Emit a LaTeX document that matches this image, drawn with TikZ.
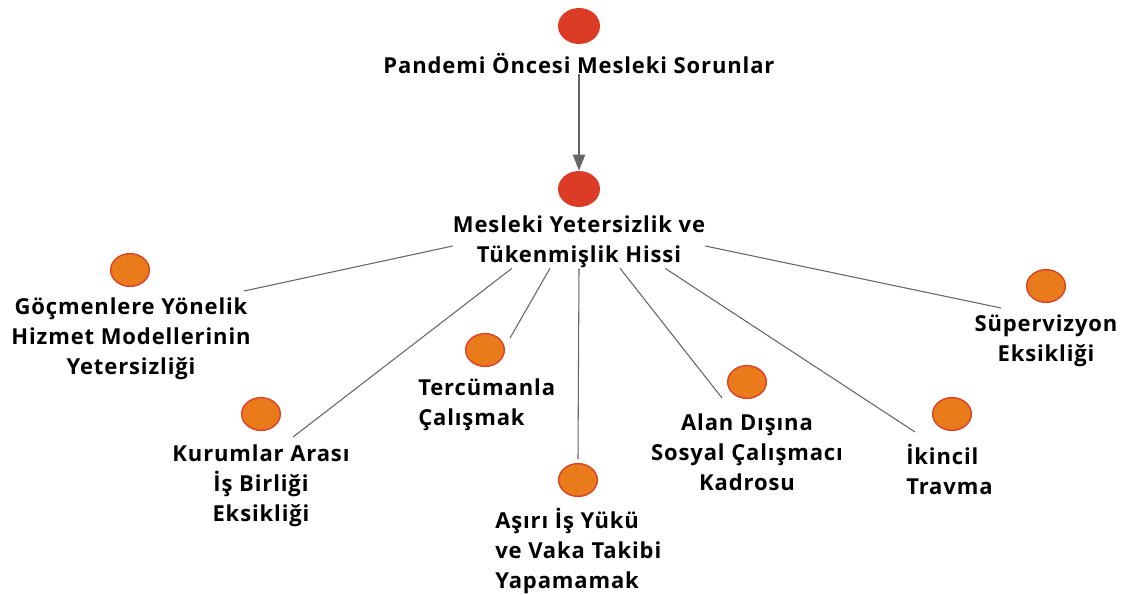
\documentclass[tikz,border=0pt]{standalone}
\usepackage{fontspec}
\setmainfont{Open Sans}
\newfontfamily\lblfont{Open Sans}[LetterSpace=4.0]
\usetikzlibrary{arrows.meta,shapes.geometric,calc}

\definecolor{topred}{HTML}{DC3B26}
\definecolor{dotorange}{HTML}{E97B1B}
\definecolor{dotrim}{HTML}{D9452B}
\definecolor{linkgray}{HTML}{666666}

\tikzset{
  topdot/.style={ellipse, fill=topred, minimum width=31.5pt, minimum height=27pt, inner sep=0pt},
  subdot/.style={ellipse, draw=dotrim, line width=1.1pt, fill=dotorange, minimum width=29pt, minimum height=24.5pt, inner sep=0pt},
  lbl/.style={font=\lblfont\fontsize{16.5}{22.5}\selectfont\bfseries, inner sep=0pt, align=center},
  link/.style={draw=linkgray, line width=0.8pt},
}

\begin{document}
\begin{tikzpicture}[x=0.75pt,y=-0.75pt]
        \useasboundingbox (0,0) rectangle (1124,595);

        % top level
        \node[topdot] (d0) at (579,26) {};
        \node[lbl] (t0) at (579,64) {Pandemi Öncesi Mesleki Sorunlar};
        \node[topdot] (d1) at (579,189) {};
        \node[lbl] (hub) at (579,242) {Mesleki Yetersizlik ve\\Tükenmişlik Hissi};

        \draw[linkgray, line width=1.5pt, -{Triangle[width=9pt,length=12pt]}] (t0) -- (d1);

        % sub themes
        \node[subdot] (d2) at (130,270) {};
        \node[lbl] (t2) at (131,339) {Göçmenlere Yönelik\\Hizmet Modellerinin\\Yetersizliği};
        \node[subdot] (d3) at (261,414) {};
        \node[lbl] (t3) at (261,486) {Kurumlar Arası\\İş Birliği\\Eksikliği};
        \node[subdot] (d4) at (485,350) {};
        \node[lbl, align=left, anchor=west] (t4) at (418,405) {Tercümanla\\Çalışmak};
        \node[subdot] (d5) at (578,480) {};
        \node[lbl, align=left, anchor=west] (t5) at (495,551) {Aşırı İş Yükü\\ve Vaka Takibi\\Yapamamak};
        \node[subdot] (d6) at (747,382) {};
        \node[lbl] (t6) at (747,452) {Alan Dışına\\Sosyal Çalışmacı\\Kadrosu};
        \node[subdot] (d7) at (952,414) {};
        \node[lbl, align=left, anchor=west] (t7) at (906,469) {İkincil\\Travma};
        \node[subdot] (d8) at (1046,286) {};
        \node[lbl] (t8) at (1046,341) {Süpervizyon\\Eksikliği};

        % free ends of the links
        \coordinate (e2) at (244,291);
        \coordinate (e3) at (293,437);
        \coordinate (e4) at (510,338);
        \coordinate (e5) at (578,459);
        \coordinate (e6) at (722,398);
        \coordinate (e7) at (915,432);
        \coordinate (e8) at (1001,308);

        \draw[link] ($(hub.west)+(0,4)$) -- (e2);
        \draw[link] ($(hub.south)+(-67,0)$) -- (e3);
        \draw[link] ($(hub.south)+(-29,0)$) -- (e4);
        \draw[link] (hub.south) -- (e5);
        \draw[link] ($(hub.south)+(41,0)$) -- (e6);
        \draw[link] ($(hub.south)+(86,0)$) -- (e7);
        \draw[link] ($(hub.east)+(0,4)$) -- (e8);
    \end{tikzpicture}
\end{document}
